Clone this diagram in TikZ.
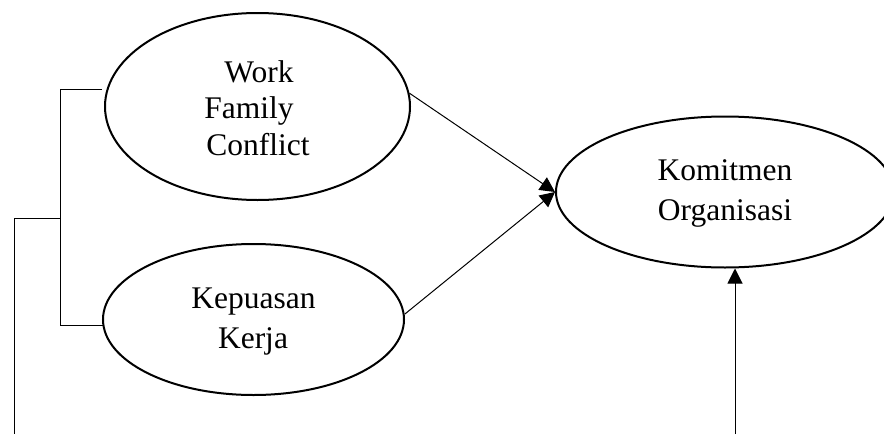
\documentclass[tikz,border=0pt]{standalone}
\usepackage{fontspec}
\setmainfont{Liberation Serif}
\usetikzlibrary{shapes.geometric,arrows.meta}
\begin{document}
\begin{tikzpicture}[x=1pt,y=-1pt,
  oval/.style={draw=black,ellipse,line width=2pt,inner sep=0pt},
  lbl/.style={anchor=base,inner sep=0pt,font=\fontsize{31.5}{37}\selectfont},
  conn/.style={draw=black,line width=1pt},
  arr/.style={conn,-{Triangle[length=15pt,width=15pt]}}]
\useasboundingbox (0,0) rectangle (884,434);
\begin{scope}
\clip (0,0) rectangle (884,434);
% ellipses
\node[oval,minimum width=305pt,minimum height=187pt] (wfc) at (257.5,106.5) {};
\node[oval,minimum width=301pt,minimum height=151pt] (kep) at (253.5,319.5) {};
\node[oval,minimum width=338pt,minimum height=151pt] (kom) at (725,192) {};
\end{scope}
% texts
\node[lbl] (t1) at (259,82) {Work};
\node[lbl] (t2) at (249,118) {Family};
\node[lbl] (t3) at (258,155) {Conflict};
\node[lbl] (t4) at (253.5,308) {Kepuasan};
\node[lbl] (t5) at (253,348) {Kerja};
\node[lbl] (t6) at (725,180) {Komitmen};
\node[lbl] (t7) at (725,220) {Organisasi};
% bracket
\coordinate (b1) at (60.7,89.3);
\coordinate (b1e) at (102,89.3);
\coordinate (b2) at (60.7,325.7);
\coordinate (b2e) at (103,325.7);
\coordinate (bm) at (60.7,218.3);
\coordinate (bl) at (14.7,218.3);
\coordinate (bb) at (14.7,434);
\draw[conn] (b1e) -- (b1) -- (b2) -- (b2e);
\draw[conn] (bm) -- (bl) -- (bb);
% arrows
\draw[arr] (wfc.5.5) -- (kom.west);
\draw[arr] (kep.2.4) -- (kom.west);
\coordinate (kb) at (735,434);
\draw[arr] (kb) -- (kb |- kom.south);
\end{tikzpicture}
\end{document}
